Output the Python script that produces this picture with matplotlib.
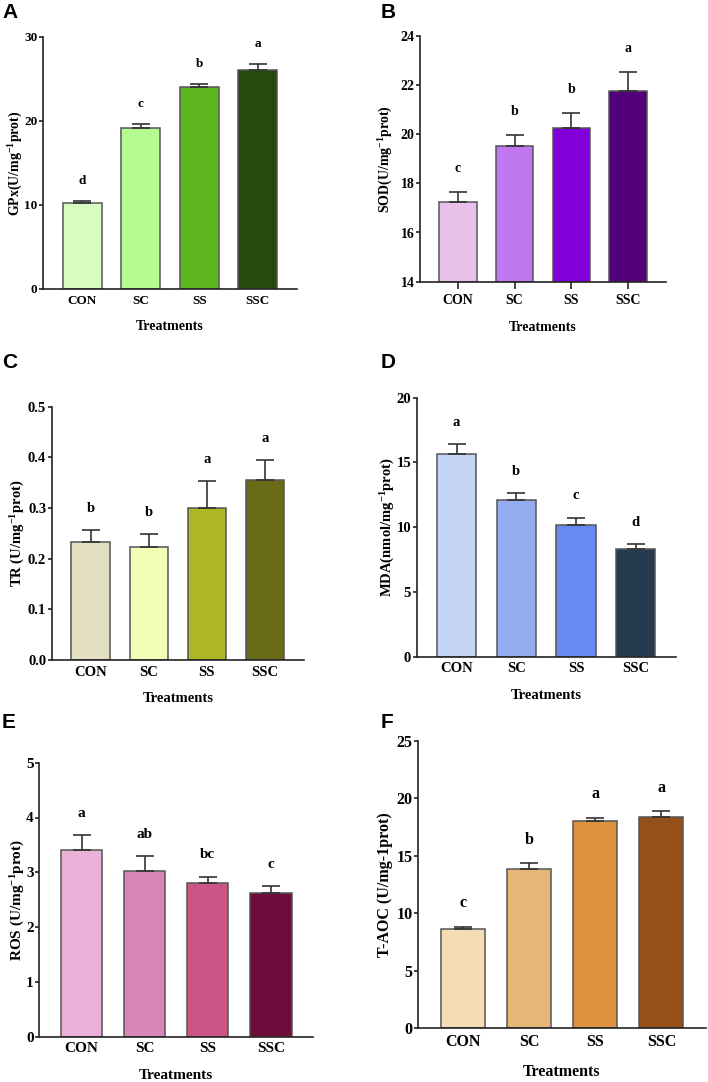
import matplotlib
matplotlib.use("Agg")
import matplotlib.pyplot as plt
import numpy as np

plt.rcParams['font.family'] = ['Liberation Serif', 'DejaVu Serif']
plt.rcParams['font.weight'] = 'bold'
plt.rcParams['mathtext.fontset'] = 'custom'
plt.rcParams['mathtext.rm'] = 'Liberation Serif:bold'
plt.rcParams['mathtext.bf'] = 'Liberation Serif:bold'
plt.rcParams['mathtext.it'] = 'Liberation Serif:bold'

categories = ["CON", "SC", "SS", "SSC"]

gpx_vals = [10.2, 19.2, 24.1, 26.1]
gpx_err = [0.3, 0.4, 0.35, 0.65]
gpx_letters = ["d", "c", "b", "a"]

sod_vals = [17.25, 19.53, 20.25, 21.76]
sod_err = [0.39, 0.43, 0.62, 0.78]
sod_letters = ["c", "b", "b", "a"]

tr_vals = [0.232, 0.223, 0.300, 0.355]
tr_err = [0.025, 0.026, 0.053, 0.040]
tr_letters = ["b", "b", "a", "a"]

mda_vals = [15.65, 12.07, 10.14, 8.29]
mda_err = [0.77, 0.54, 0.59, 0.38]
mda_letters = ["a", "b", "c", "d"]

ros_vals = [3.40, 3.03, 2.81, 2.63]
ros_err = [0.28, 0.27, 0.11, 0.12]
ros_letters = ["a", "ab", "bc", "c"]

taoc_vals = [8.61, 13.86, 18.01, 18.42]
taoc_err = [0.24, 0.50, 0.32, 0.49]
taoc_letters = ["c", "b", "a", "a"]

W, H = 708, 1082
fig = plt.figure(figsize=(W / 100, H / 100), dpi=100)

panels = [
    dict(key="A", rect=(43, 297, 37, 289), vals=gpx_vals, err=gpx_err, letters=gpx_letters,
         colors=["#d6fcc2", "#b4fc8f", "#5db620", "#244a0d"],
         ylim=(0, 30), ticks=[0, 10, 20, 30], fmt="{:.0f}",
         ylabel=r"GPx(U/mg$^{-1}$prot)", fs=9.5, lfs=10, xticks=False, off=10,
         letter_pos=(2, 3), ylab_x=16),
    dict(key="B", rect=(420, 666, 35.7, 281.7), vals=sod_vals, err=sod_err, letters=sod_letters,
         colors=["#e8c0ea", "#c077ef", "#8100d9", "#52007c"],
         ylim=(14, 24), ticks=[14, 16, 18, 20, 22, 24], fmt="{:.0f}",
         ylabel=r"SOD(U/mg$^{-1}$prot)", fs=10, lfs=10, xticks=True, off=12,
         letter_pos=(381, 3), ylab_x=386),
    dict(key="C", rect=(51.7, 304, 406.7, 660), vals=tr_vals, err=tr_err, letters=tr_letters,
         colors=["#e3dfc1", "#f2fdb6", "#aeb626", "#6a6b18"],
         ylim=(0, 0.5), ticks=[0, 0.1, 0.2, 0.3, 0.4, 0.5], fmt="{:.1f}",
         ylabel=r"TR (U/mg$^{-1}$prot)", fs=10.5, lfs=10.5, xticks=False, off=11,
         letter_pos=(2, 353), ylab_x=17.5),
    dict(key="D", rect=(416.7, 675.7, 397.7, 656.7), vals=mda_vals, err=mda_err, letters=mda_letters,
         colors=["#c5d5f5", "#94adf1", "#6888f3", "#243b50"],
         ylim=(0, 20), ticks=[0, 5, 10, 15, 20], fmt="{:.0f}",
         ylabel=r"MDA(nmol/mg$^{-1}$prot)", fs=10.5, lfs=10.5, xticks=False, off=11,
         letter_pos=(381, 353), ylab_x=388),
    dict(key="E", rect=(39.3, 313, 762.7, 1036.7), vals=ros_vals, err=ros_err, letters=ros_letters,
         colors=["#e9b1d8", "#d985b8", "#cd5586", "#6e0c3b"],
         ylim=(0, 5), ticks=[0, 1, 2, 3, 4, 5], fmt="{:.0f}",
         ylabel=r"ROS (U/mg$^{-1}$prot)", fs=11, lfs=11, xticks=False, off=11,
         letter_pos=(2, 713), ylab_x=17.5),
    dict(key="F", rect=(418.3, 705.7, 741, 1028.3), vals=taoc_vals, err=taoc_err, letters=taoc_letters,
         colors=["#f4dcb5", "#e6b677", "#dd923d", "#945018"],
         ylim=(0, 25), ticks=[0, 5, 10, 15, 20, 25], fmt="{:.0f}",
         ylabel="T-AOC (U/mg-1prot)", fs=11.5, lfs=11.5, xticks=False, off=11,
         letter_pos=(381, 713), ylab_x=385),
]

for p in panels:
    l, r, t, b = p["rect"]
    ax = fig.add_axes([l / W, 1 - b / H, (r - l) / W, (b - t) / H])
    x = np.arange(len(categories))
    base = p["ylim"][0]
    heights = [v - base for v in p["vals"]]
    ax.bar(x, heights, bottom=base, width=0.66, color=p["colors"], edgecolor="#555555",
           linewidth=1.1, zorder=2)
    ax.errorbar(x, p["vals"], yerr=[np.zeros(4), p["err"]], fmt="none", ecolor="#333333",
                elinewidth=1.2, capsize=6.5, capthick=1.2, zorder=3)
    for xi, v, e, s in zip(x, p["vals"], p["err"], p["letters"]):
        ax.annotate(s, (xi, v + e), xytext=(0, p["off"]), textcoords="offset points",
                    ha="center", va="bottom", fontsize=p["fs"], fontweight="bold")
    ax.set_xlim(-0.67, 3.67)
    ax.set_ylim(*p["ylim"])
    ax.set_yticks(p["ticks"])
    ax.set_yticklabels([p["fmt"].format(v) for v in p["ticks"]])
    ax.set_xticks(x)
    ax.set_xticklabels(categories)
    ax.spines["top"].set_visible(False)
    ax.spines["right"].set_visible(False)
    for sp in ("left", "bottom"):
        ax.spines[sp].set_color("#222222")
        ax.spines[sp].set_linewidth(1.2)
    ax.tick_params(axis="y", length=3, width=1.2, color="#222222", labelsize=p["fs"], pad=1)
    ax.tick_params(axis="x", length=5 if p["xticks"] else 0, width=1.2, color="#222222",
                   labelsize=p["fs"], pad=4)
    ax.set_xlabel("Treatments", fontsize=p["lfs"], fontweight="bold", labelpad=10)
    ax.set_ylabel(p["ylabel"], fontsize=p["lfs"], fontweight="bold", va="center")
    ax.yaxis.set_label_coords((p["ylab_x"] - l) / (r - l), 0.5)
    lx, ly = p["letter_pos"]
    fig.text(lx / W, 1 - ly / H, p["key"], family="Liberation Sans", fontweight="bold",
             fontsize=15, ha="left", va="top")

fig.savefig("out.png", dpi=100)
